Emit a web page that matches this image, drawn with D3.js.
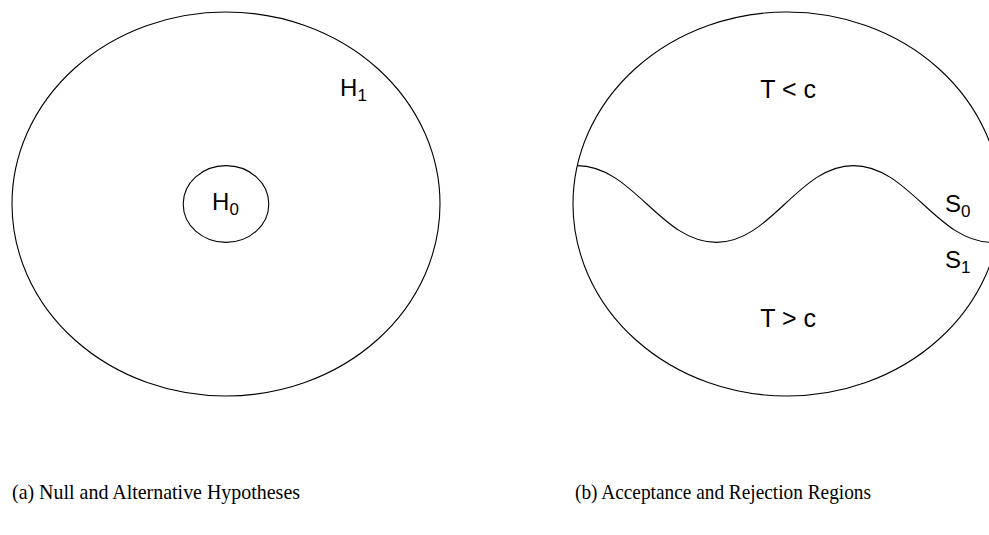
<!DOCTYPE html>
<html lang="en">
<head>
    <meta charset="UTF-8">
    <title>Hypotheses</title>
    <style>
        body{
            margin: 0;
            background: white;
        }
        svg{
            display: block;
        }
        .shape{
            fill: none;
            stroke: black;
            stroke-width: 1.1px;
        }
        .label{
            font-family: "Liberation Sans", Arial, sans-serif;
            font-size: 24px;
            fill: black;
        }
        .region{
            font-size: 25px;
        }
        .caption{
            font-family: "Liberation Serif", "Times New Roman", serif;
            font-size: 21px;
            fill: black;
        }
    </style>
    <script src="https://d3js.org/d3.v7.min.js"></script>
</head>
<body>
<svg id="figure" width="989" height="535"></svg>
<script>
    // captions under the two panels
    let panelCaptions = ["(a) Null and Alternative Hypotheses", "(b) Acceptance and Rejection Regions"]
    // hypothesis labels (outer H1, inner H0)
    let hypothesisLabels = [{base: "H", sub: "1"}, {base: "H", sub: "0"}]
    // test statistic regions
    let regionLabels = ["T < c", "T > c"]
    // sides of the boundary
    let boundaryLabels = [{base: "S", sub: "0"}, {base: "S", sub: "1"}]
    // boundary wave, in panel units: crest / trough positions
    let waveX = [-0.98, -0.33, 0.31, 0.96]
    let waveY = [0.2, -0.2, 0.2, -0.2]
    // inner null set size, in panel units
    let nullRadius = 0.2

    let svg = d3.select("#figure")

    function panel_scales(left, right, top, bottom) {
        let x = d3.scaleLinear().domain([-1, 1]).range([left, right])
        let y = d3.scaleLinear().domain([-1, 1]).range([bottom, top])
        return {x: x, y: y}
    }

    function ellipse(g, s, r) {
        g.append("ellipse").attr("class", "shape")
            .attr("cx", s.x(0)).attr("cy", s.y(0))
            .attr("rx", s.x(r) - s.x(0))
            .attr("ry", s.y(0) - s.y(r))
    }

    function sub_label(g, d, x, y) {
        let t = g.append("text").attr("class", "label")
            .attr("x", x).attr("y", y)
        t.append("tspan").text(d.base)
        t.append("tspan").attr("dy", 5).attr("font-size", "17px").text(d.sub)
    }

    // panel (a)
    let sa = panel_scales(12, 440, 12, 396)
    let ga = svg.append("g")
    ellipse(ga, sa, 1)
    ellipse(ga, sa, nullRadius)
    sub_label(ga, hypothesisLabels[0], sa.x(0.533), sa.y(0.5625))
    sub_label(ga, hypothesisLabels[1], sa.x(-0.065), sa.y(-0.031))

    // panel (b)
    let sb = panel_scales(573, 1001, 12, 396)
    let gb = svg.append("g")
    ellipse(gb, sb, 1)

    // wave with flat crests and troughs
    let pts = d3.zip(waveX, waveY).map(function (d) {
        return [sb.x(d[0]), sb.y(d[1])]
    })
    let p = d3.path()
    p.moveTo(pts[0][0], pts[0][1])
    for (let i = 1; i < pts.length; i++) {
        let dx = pts[i][0] - pts[i - 1][0]
        p.bezierCurveTo(pts[i - 1][0] + dx * 0.4, pts[i - 1][1],
            pts[i][0] - dx * 0.4, pts[i][1],
            pts[i][0], pts[i][1])
    }
    gb.append("path").attr("class", "shape").attr("d", p.toString())

    gb.selectAll(".region")
        .data(regionLabels)
        .enter()
        .append("text")
        .attr("class", "label region")
        .attr("text-anchor", "middle")
        .attr("x", sb.x(0.005))
        .attr("y", function (d, i) { return i === 0 ? sb.y(0.552) : sb.y(-0.64) })
        .text(function (d) { return d })
    sub_label(gb, boundaryLabels[0], sb.x(0.738), sb.y(-0.042))
    sub_label(gb, boundaryLabels[1], sb.x(0.738), sb.y(-0.333))

    // captions
    let captionWidth = [288, 296]
    svg.selectAll(".caption")
        .data(panelCaptions)
        .enter()
        .append("text")
        .attr("class", "caption")
        .attr("x", function (d, i) { return i === 0 ? 12 : 575 })
        .attr("y", 499)
        .attr("textLength", function (d, i) { return captionWidth[i] })
        .attr("lengthAdjust", "spacingAndGlyphs")
        .text(function (d) { return d })
</script>
</body>
</html>
